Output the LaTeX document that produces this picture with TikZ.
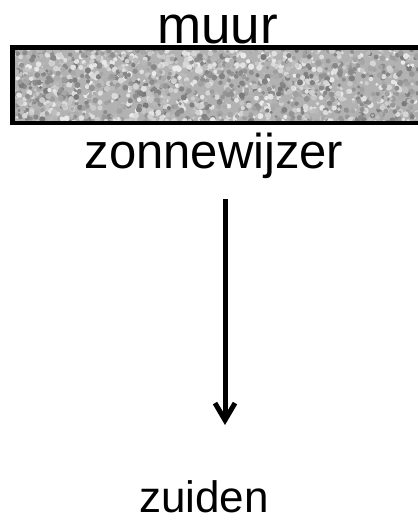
\documentclass[tikz,border=0pt]{standalone}
\usepackage{fontspec}
\setmainfont{Liberation Sans}
\usetikzlibrary{arrows.meta,positioning}
\begin{document}
\begin{tikzpicture}[x=1pt, y=-1pt]
% Define
\tikzstyle{LABEL} = [inner sep=0pt, anchor=base]
\tikzstyle{WALL} = [line width=4.5pt, line join=miter]
\tikzstyle{ARROW} = [line width=5pt, -{Straight Barb[length=17pt, width=20pt, line width=5pt]}]
\useasboundingbox (0,0) rectangle (418,520);
% Wall
\coordinate (w_nw) at (12.5,47.5);
\coordinate (w_se) at (418,123);
\begin{scope}
\clip (w_nw) rectangle (w_se);
\fill [black!30] (w_nw) rectangle (w_se);
\pgfmathsetseed{11}
\foreach \i in {1,...,1800} {
  \pgfmathsetmacro{\px}{12+406*rnd}
  \pgfmathsetmacro{\py}{47+77*rnd}
  \pgfmathsetmacro{\pg}{int(8+45*rnd)}
  \pgfmathsetmacro{\pr}{1.6+1.6*rnd}
  \fill [black!\pg] (\px,\py) circle (\pr);
}
\end{scope}
\draw [WALL] (w_se |- w_nw) -- (w_nw) -- (w_nw |- w_se) -- (w_se);
% Place nodes
\node [LABEL] (muur) at (217.5,43) {\fontsize{53}{60}\selectfont muur};
\node [LABEL] (zonnewijzer) at (214,168) {\fontsize{49}{56}\selectfont zonnewijzer};
\node [LABEL] (zuiden) at (204,512) {\fontsize{44}{50}\selectfont zuiden};
\coordinate (pijl_start) at (225,199);
\coordinate (pijl_eind) at (225,425);
% LINES and ARROWS
\draw [ARROW] (pijl_start) -- (pijl_eind);
\end{tikzpicture}
\end{document}
